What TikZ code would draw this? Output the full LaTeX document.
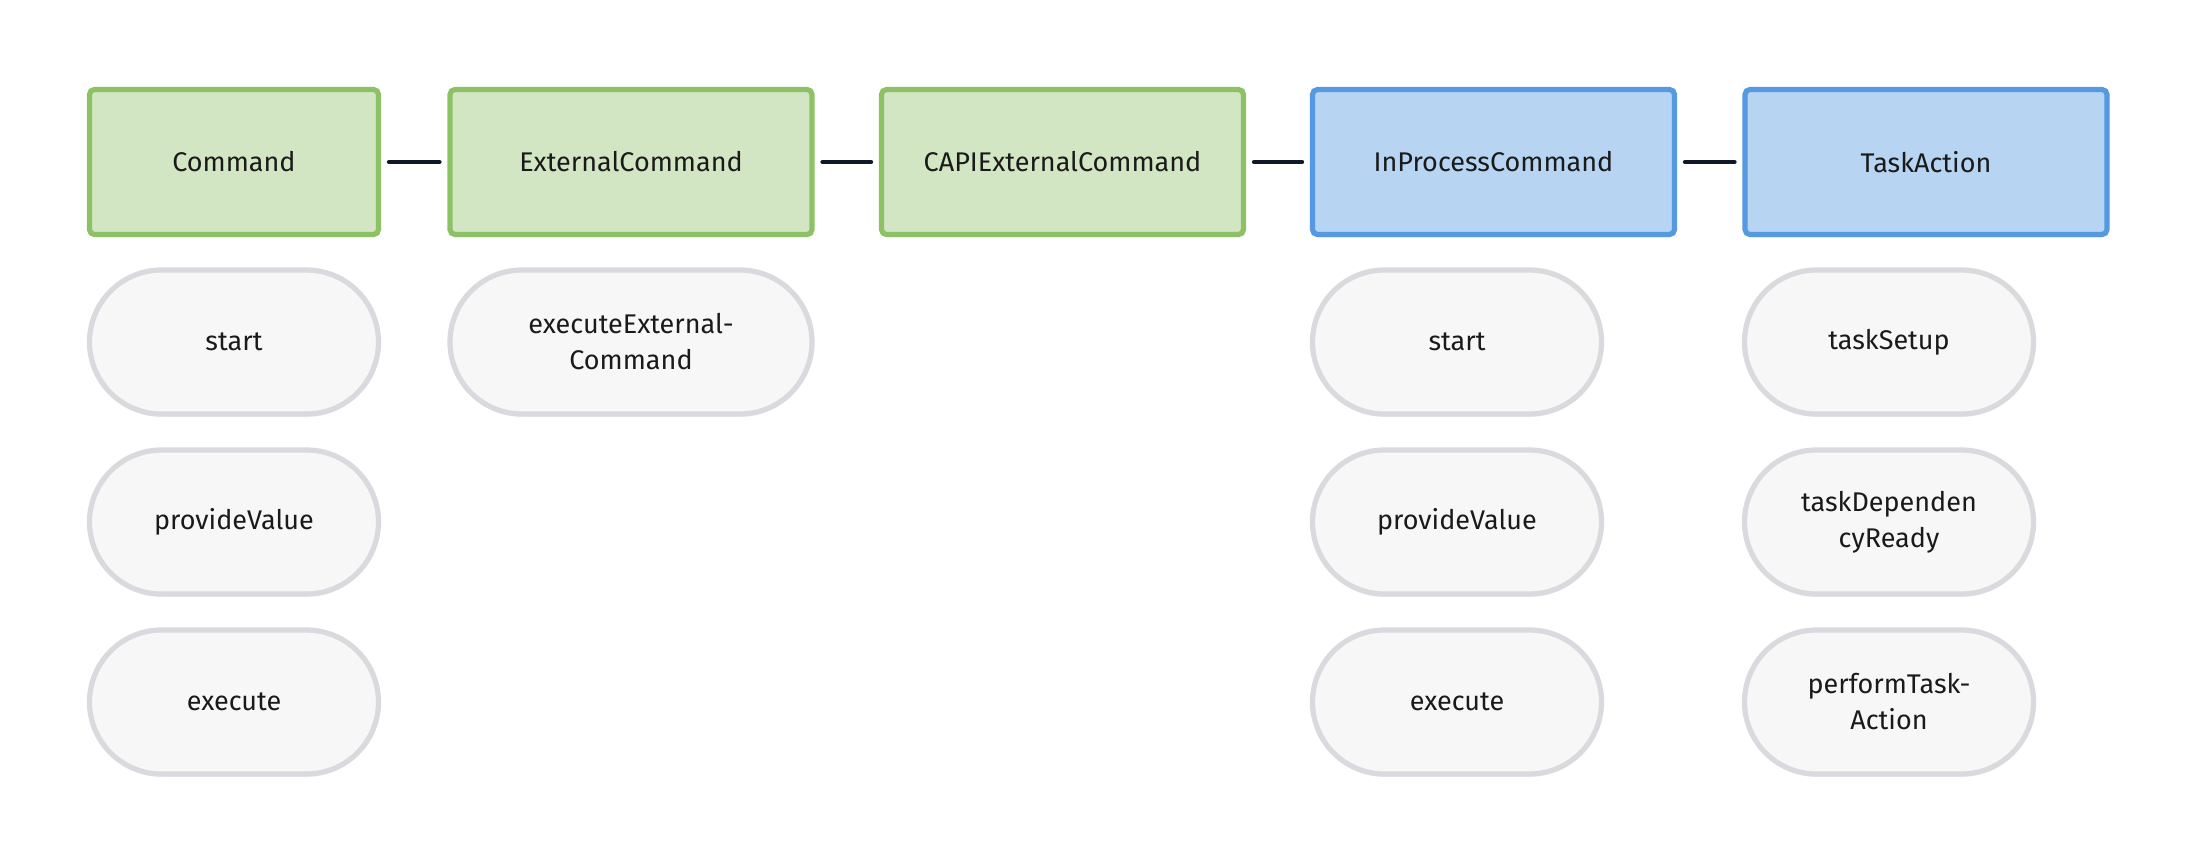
\documentclass[tikz,border=0pt]{standalone}
\usepackage{fontspec}
\setmainfont{Fira Sans}
\usetikzlibrary{shadows}
\definecolor{gfill}{HTML}{D3E6C3}
\definecolor{gdraw}{HTML}{8CC265}
\definecolor{bfill}{HTML}{B7D5F2}
\definecolor{bdraw}{HTML}{5599E0}
\definecolor{pfill}{HTML}{F7F7F7}
\definecolor{pdraw}{HTML}{D9D9DE}
\definecolor{ink}{HTML}{1A1A1A}
\definecolor{conn}{HTML}{111827}
\tikzset{
  base/.style={font=\fontsize{13.5pt}{18pt}\selectfont, text=ink, align=center, inner sep=0pt,
    line width=2.6pt, drop shadow={opacity=0.08, shadow xshift=0pt, shadow yshift=-1.5pt}},
  gbox/.style={base, rectangle, rounded corners=2.5pt, fill=gfill, draw=gdraw, minimum height=72.5pt},
  bbox/.style={base, rectangle, rounded corners=2.5pt, fill=bfill, draw=bdraw, minimum height=72.5pt},
  narrow/.style={minimum width=144.5pt},
  wide/.style={minimum width=181pt},
  pill/.style={base, rectangle, rounded corners=36pt, fill=pfill, draw=pdraw, minimum height=72pt},
  conn/.style={draw=conn, line width=2.3pt, line cap=round, shorten >=4pt, shorten <=4pt}
}
\begin{document}
\begin{tikzpicture}[x=0.5pt,y=-0.5pt]
\useasboundingbox[fill=white] (0,0) rectangle (2196,864);
% header boxes
\node[gbox,narrow] (cmd)  at (234,162)    {Command};
\node[gbox,wide]   (ext)  at (631,162)    {ExternalCommand};
\node[gbox,wide]   (capi) at (1062.5,162) {CAPIExternalCommand};
\node[bbox,wide]   (inp)  at (1493.5,162) {InProcessCommand};
\node[bbox,wide]   (task) at (1926,162)   {TaskAction};
% connectors
\draw[conn] (cmd.east) -- (ext.west);
\draw[conn] (ext.east) -- (capi.west);
\draw[conn] (capi.east) -- (inp.west);
\draw[conn] (inp.east) -- (task.west);
% Command column
\node[pill,narrow] (c1) at (234,342) {start};
\node[pill,narrow] (c2) at (234,522) {provideValue};
\node[pill,narrow] (c3) at (234,702) {execute};
% ExternalCommand column
\node[pill,wide] (e1) at (631,342) {executeExternal-\\Command};
% InProcessCommand column
\node[pill,narrow] (i1) at (1457,342) {start};
\node[pill,narrow] (i2) at (1457,522) {provideValue};
\node[pill,narrow] (i3) at (1457,702) {execute};
% TaskAction column
\node[pill,narrow] (t1) at (1889,342) {taskSetup};
\node[pill,narrow] (t2) at (1889,522) {taskDependen\\cyReady};
\node[pill,narrow] (t3) at (1889,702) {performTask-\\Action};
\end{tikzpicture}
\end{document}
